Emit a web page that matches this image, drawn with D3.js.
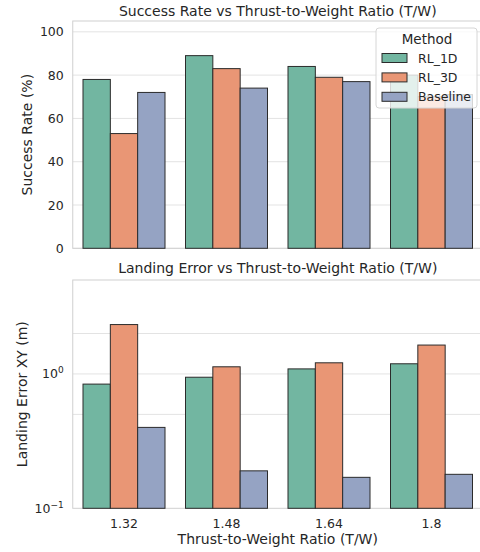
<!DOCTYPE html>
<html>
<head>
<meta charset="utf-8">
<title>Success Rate and Landing Error vs T/W</title>
<script src="https://d3js.org/d3.v7.min.js"></script>
<style>
  body { margin: 0; background: #fff; }
  svg text { font-family: "DejaVu Sans", sans-serif; fill: #262626; }
</style>
</head>
<body>
<div id="chart"></div>

<script type="text/javascript">
// data
var ratios = ["1.32", "1.48", "1.64", "1.8"];
var methods = ["RL_1D", "RL_3D", "Baseline"];
var colors = ["#72b6a1", "#e99675", "#95a3c3"];

var successRL1D = [78, 89, 84, 80];
var successRL3D = [53, 83, 79, 70];
var successBase = [72, 74, 77, 71];

var errorRL1D = [0.84, 0.945, 1.09, 1.19];
var errorRL3D = [2.33, 1.13, 1.21, 1.64];
var errorBase = [0.40, 0.19, 0.17, 0.179];

var successTicks = [0, 20, 40, 60, 80, 100];
var errorGrid = [0.5, 1, 2];
var errorTicks = [0.1, 1];

var width = 480, height = 552;
var left = 72.75, right = 482.75;

var svg = d3.select('#chart').append('svg')
    .attr('width', width)
    .attr('height', height);

var x0 = d3.scaleBand().domain(ratios).range([left, right]).paddingInner(0.2).paddingOuter(0.1);
var x1 = d3.scaleBand().domain(methods).range([0, x0.bandwidth()]);

function drawPanel(cfg) {
    var g = svg.append('g');
    var y = cfg.y;
    var top = cfg.top, bottom = cfg.bottom;

    // grid
    g.selectAll('line.grid')
        .data(cfg.grid)
        .enter()
        .append('line')
        .attr('x1', left).attr('x2', right)
        .attr('y1', function(d) { return y(d); })
        .attr('y2', function(d) { return y(d); })
        .attr('stroke', '#e3e3e3')
        .attr('stroke-width', 1);

    // frame
    g.append('rect')
        .attr('x', left).attr('y', top)
        .attr('width', right - left).attr('height', bottom - top)
        .attr('fill', 'none')
        .attr('stroke', '#d0d0d0')
        .attr('stroke-width', 1);

    // bars, one group per ratio
    var rows = ratios.map(function(r, i) {
        return methods.map(function(m, j) {
            return { ratio: r, method: m, value: cfg.series[j][i], color: colors[j] };
        });
    });

    var grp = g.selectAll('g.group')
        .data(rows)
        .enter()
        .append('g')
        .attr('transform', function(d) { return 'translate(' + x0(d[0].ratio) + ',0)'; });

    grp.selectAll('rect')
        .data(function(d) { return d; })
        .enter()
        .append('rect')
        .attr('x', function(d) { return x1(d.method); })
        .attr('width', x1.bandwidth())
        .attr('y', function(d) { return y(d.value); })
        .attr('height', function(d) { return bottom - y(d.value); })
        .attr('fill', function(d) { return d.color; })
        .attr('stroke', '#2b2b2b')
        .attr('stroke-width', 1);

    // y tick labels
    var yAxis = g.append('g').attr('transform', 'translate(' + left + ',0)');
    var ticks = yAxis.selectAll('text')
        .data(cfg.ticks)
        .enter()
        .append('text')
        .attr('x', -9)
        .attr('y', function(d) { return y(d) + 4.5; })
        .attr('text-anchor', 'end')
        .style('font-size', '12.5px');
    cfg.tickText(ticks);

    // title
    g.append('text')
        .attr('x', (left + right) / 2)
        .attr('y', cfg.titleY)
        .attr('text-anchor', 'middle')
        .style('font-size', '14px')
        .text(cfg.title);

    // y label
    g.append('text')
        .attr('transform', 'translate(' + cfg.labelX + ',' + ((top + bottom) / 2) + ') rotate(-90)')
        .attr('text-anchor', 'middle')
        .style('font-size', '14px')
        .text(cfg.label);

    return g;
}

// top panel: success rate
var yS = d3.scaleLinear().domain([0, 105]).range([248.3, 21]);
drawPanel({
    y: yS, top: 21, bottom: 248.3,
    grid: successTicks,
    ticks: successTicks,
    series: [successRL1D, successRL3D, successBase],
    title: 'Success Rate vs Thrust-to-Weight Ratio (T/W)',
    titleY: 15.5,
    label: 'Success Rate (%)',
    labelX: 32,
    tickText: function(sel) { sel.text(function(d) { return d; }); }
});

// bottom panel: landing error (log)
var yE = d3.scaleLog().domain([0.1, 5]).range([508.3, 280]);
drawPanel({
    y: yE, top: 280, bottom: 508.3,
    grid: errorGrid,
    ticks: errorTicks,
    series: [errorRL1D, errorRL3D, errorBase],
    title: 'Landing Error vs Thrust-to-Weight Ratio (T/W)',
    titleY: 273,
    label: 'Landing Error XY (m)',
    labelX: 27,
    tickText: function(sel) {
        sel.text('10');
        sel.append('tspan')
            .attr('dy', -5)
            .style('font-size', '9px')
            .text(function(d) { return d === 1 ? '0' : '\u22121'; });
    }
});

// x tick labels and label under the bottom panel
svg.append('g').selectAll('text')
    .data(ratios)
    .enter()
    .append('text')
    .attr('x', function(d) { return x0(d) + x0.bandwidth() / 2; })
    .attr('y', 527.5)
    .attr('text-anchor', 'middle')
    .style('font-size', '12.5px')
    .text(function(d) { return d; });

svg.append('text')
    .attr('x', (left + right) / 2)
    .attr('y', 544)
    .attr('text-anchor', 'middle')
    .style('font-size', '14px')
    .text('Thrust-to-Weight Ratio (T/W)');

// legend in the top panel
var legend = svg.append('g').attr('transform', 'translate(376,28)');
legend.append('rect')
    .attr('width', 101).attr('height', 80)
    .attr('rx', 3)
    .attr('fill', 'white')
    .attr('fill-opacity', 0.8)
    .attr('stroke', '#d6d6d6')
    .attr('stroke-width', 1);
legend.append('text')
    .attr('x', 51).attr('y', 15.5)
    .attr('text-anchor', 'middle')
    .style('font-size', '13.5px')
    .text('Method');
var items = legend.selectAll('g.item')
    .data(methods)
    .enter()
    .append('g')
    .attr('transform', function(d, i) { return 'translate(6,' + (30 + 19.4 * i) + ')'; });
items.append('rect')
    .attr('y', -4.5)
    .attr('width', 25).attr('height', 9)
    .attr('fill', function(d, i) { return colors[i]; })
    .attr('stroke', '#2b2b2b')
    .attr('stroke-width', 1);
items.append('text')
    .attr('x', 36).attr('y', 4.5)
    .style('font-size', '12.5px')
    .text(function(d) { return d; });
</script>
</body>
</html>
